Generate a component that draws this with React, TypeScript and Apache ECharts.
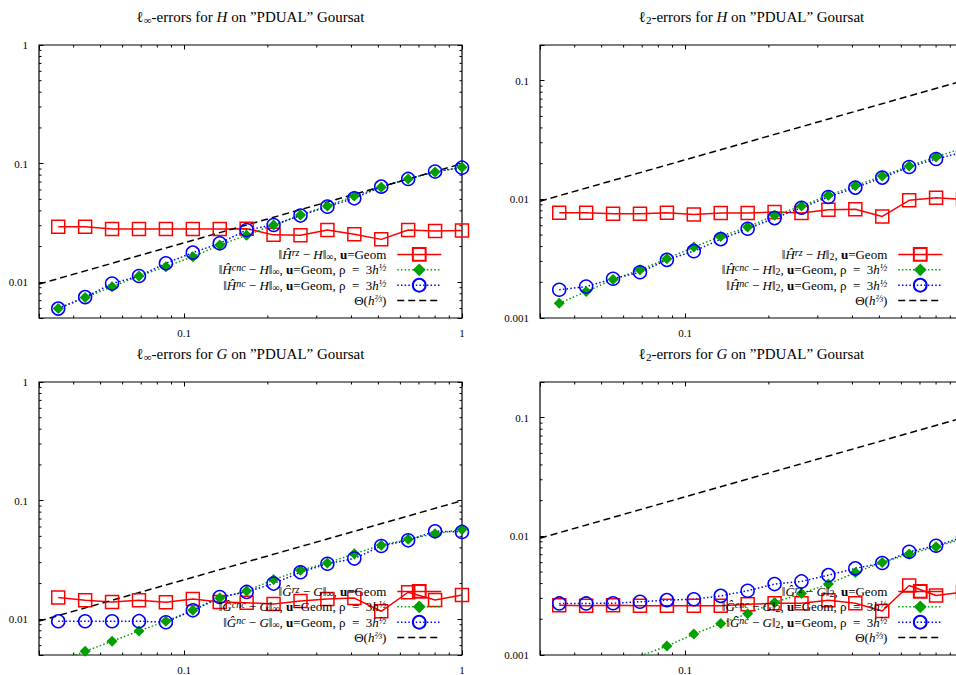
import React, { useEffect, useRef } from 'react';
import * as echarts from 'echarts';

// mesh sizes h (ascending)
const H_STEPS = [0.035184, 0.04398, 0.054976, 0.068719, 0.085899, 0.107374, 0.134218, 0.167772, 0.209715, 0.262144, 0.32768, 0.4096, 0.512, 0.64, 0.8, 1];

// l_inf errors for H
const HINF_RZ = [0.0294, 0.0294, 0.0281, 0.0281, 0.0281, 0.0281, 0.0281, 0.0283, 0.0251, 0.0249, 0.0276, 0.0254, 0.0230, 0.0276, 0.0271, 0.0273];
const HINF_CNC = [0.0060, 0.00743, 0.00919, 0.0113, 0.01355, 0.01644, 0.0206, 0.0249, 0.0304, 0.0369, 0.0440, 0.0534, 0.0632, 0.0743, 0.0851, 0.0931];
const HINF_NC = [0.0060, 0.0075, 0.00975, 0.0113, 0.01445, 0.01778, 0.0213, 0.0276, 0.0304, 0.0365, 0.0434, 0.0510, 0.0640, 0.0743, 0.0857, 0.0925];

// l_2 errors for H
const H2_RZ = [0.00772, 0.00772, 0.00757, 0.00757, 0.00772, 0.00745, 0.00767, 0.00767, 0.00782, 0.00767, 0.00819, 0.00824, 0.00718, 0.00982, 0.01033, 0.0100];
const H2_CNC = [0.00133, 0.00167, 0.00211, 0.00255, 0.00316, 0.00396, 0.00487, 0.00584, 0.00733, 0.00879, 0.01082, 0.01304, 0.01573, 0.01913, 0.0228, 0.0270];
const H2_NC = [0.00173, 0.00184, 0.00214, 0.00243, 0.00309, 0.00366, 0.00462, 0.00565, 0.00695, 0.0085, 0.01047, 0.01256, 0.01525, 0.01875, 0.0219, 0.0250];

// l_inf errors for G
const GINF_RZ = [0.01524, 0.01445, 0.0140, 0.01445, 0.0139, 0.0148, 0.0140, 0.0138, 0.01345, 0.01426, 0.0148, 0.0151, 0.01168, 0.0169, 0.01453, 0.0160];
const GINF_CNC = [0.0044, 0.00537, 0.00653, 0.00798, 0.00962, 0.0119, 0.0151, 0.01733, 0.0216, 0.0259, 0.0298, 0.0357, 0.0421, 0.0472, 0.0527, 0.0570];
const GINF_NC = [0.00962, 0.00962, 0.00962, 0.00964, 0.00944, 0.0119, 0.0154, 0.0170, 0.0200, 0.0249, 0.0294, 0.0325, 0.0415, 0.0463, 0.0552, 0.0545];

// l_2 errors for G
const G2_RZ = [0.00263, 0.0026, 0.00263, 0.0026, 0.0026, 0.0026, 0.0026, 0.00268, 0.00273, 0.00273, 0.0029, 0.00273, 0.00235, 0.00385, 0.00317, 0.00338];
const G2_CNC = [0.0005, 0.00062, 0.00078, 0.00098, 0.00119, 0.0015, 0.00184, 0.00223, 0.00277, 0.0033, 0.00396, 0.00496, 0.00603, 0.0071, 0.00819, 0.0095];
const G2_NC = [0.00272, 0.00272, 0.00273, 0.00281, 0.0029, 0.00295, 0.00315, 0.00348, 0.00396, 0.00417, 0.00471, 0.00537, 0.00596, 0.00741, 0.00834, 0.0098];

// reference line Theta(h^(2/3)) end points
const THETA_H = [0.03, 1];
const THETA_V = [0.009655, 0.1];

// axis ranges and minor tick values
const X_RANGE = [0.03, 1];
const Y_RANGE_INF = [0.005, 1];
const Y_RANGE_L2 = [0.001, 0.2];
const X_MINOR = [0.04, 0.05, 0.06, 0.07, 0.08, 0.09, 0.2, 0.3, 0.4, 0.5, 0.6, 0.7, 0.8, 0.9];
const Y_MINOR_INF = [0.006, 0.007, 0.008, 0.009, 0.02, 0.03, 0.04, 0.05, 0.06, 0.07, 0.08, 0.09, 0.2, 0.3, 0.4, 0.5, 0.6, 0.7, 0.8, 0.9];
const Y_MINOR_L2 = [0.002, 0.003, 0.004, 0.005, 0.006, 0.007, 0.008, 0.009, 0.02, 0.03, 0.04, 0.05, 0.06, 0.07, 0.08, 0.09];

const FONT = '"Liberation Serif", "Times New Roman", serif';
const RED = '#ff0000';
const GREEN = '#00a000';
const BLUE = '#0000ff';

type Panel = {
  fn: string;
  hat: string;
  norm: 'inf' | 'l2';
  rz: number[]; cnc: number[]; nc: number[];
  grid: { left: number; top: number };
  yRange: number[]; yMinor: number[];
  legendRight: number;
  clippedRight: boolean;
};

const PANELS: Panel[] = [
  { fn: 'H', hat: 'Ĥ', norm: 'inf', rz: HINF_RZ, cnc: HINF_CNC, nc: HINF_NC, grid: { left: 39, top: 45 }, yRange: Y_RANGE_INF, yMinor: Y_MINOR_INF, legendRight: 514, clippedRight: false },
  { fn: 'H', hat: 'Ĥ', norm: 'l2', rz: H2_RZ, cnc: H2_CNC, nc: H2_NC, grid: { left: 540, top: 45 }, yRange: Y_RANGE_L2, yMinor: Y_MINOR_L2, legendRight: 13, clippedRight: true },
  { fn: 'G', hat: 'Ĝ', norm: 'inf', rz: GINF_RZ, cnc: GINF_CNC, nc: GINF_NC, grid: { left: 39, top: 382 }, yRange: Y_RANGE_INF, yMinor: Y_MINOR_INF, legendRight: 514, clippedRight: false },
  { fn: 'G', hat: 'Ĝ', norm: 'l2', rz: G2_RZ, cnc: G2_CNC, nc: G2_NC, grid: { left: 540, top: 382 }, yRange: Y_RANGE_L2, yMinor: Y_MINOR_L2, legendRight: 13, clippedRight: true },
];

const GRID_W = 423;
const GRID_H = 273;
const CHART_W = 956;

function isPow10(v: number) {
  const l = Math.log10(v);
  return Math.abs(l - Math.round(l)) < 1e-6;
}
function logLabel(v: number) {
  if (!isPow10(v)) return '';
  const p = Math.round(Math.log10(v));
  return p >= 0 ? String(Math.pow(10, p)) : (Math.pow(10, p)).toFixed(-p);
}

export default function App() {
  const ref = useRef<HTMLDivElement>(null);
  useEffect(() => {
    if (!ref.current) return;
    const chart = echarts.init(ref.current, undefined, { renderer: 'svg' });

    const grids: any[] = [];
    const xAxes: any[] = [];
    const yAxes: any[] = [];
    const series: any[] = [];
    const titles: any[] = [];
    const legends: any[] = [];
    const legendText: Record<string, string> = {};

    const axisLabelStyle = { color: '#000', fontFamily: FONT, fontSize: 11 };
    const SP = '\u2002';

    PANELS.forEach((p, i) => {
      grids.push({
        left: p.grid.left, top: p.grid.top, right: CHART_W - p.grid.left - GRID_W, height: GRID_H,
        show: true, borderColor: '#000', borderWidth: 1.2, backgroundColor: 'transparent',
        containLabel: false, outerBoundsMode: 'none',
      });
      const baseX = {
        type: 'log', logBase: 10, gridIndex: i, min: X_RANGE[0], max: X_RANGE[1],
        axisLine: { show: false }, splitLine: { show: false }, minorTick: { show: false },
        axisTick: { show: true, inside: true, length: 4.5, lineStyle: { color: '#000', width: 1 } },
      };
      xAxes.push({
        ...baseX, position: 'bottom',
        axisLabel: { ...axisLabelStyle, margin: 9, showMaxLabel: !p.clippedRight, formatter: logLabel },
      });
      xAxes.push({ ...baseX, position: 'top', axisLabel: { show: false } });
      const baseY = {
        type: 'log', logBase: 10, gridIndex: i, min: p.yRange[0], max: p.yRange[1],
        axisLine: { show: false }, splitLine: { show: false }, minorTick: { show: false },
        axisTick: { show: true, inside: true, length: 4.5, lineStyle: { color: '#000', width: 1 } },
      };
      yAxes.push({ ...baseY, position: 'left', axisLabel: { ...axisLabelStyle, margin: 11, formatter: logLabel } });
      yAxes.push({ ...baseY, position: 'right', axisLabel: { show: false } });

      const xi = i * 2;
      const yi = i * 2;
      const sub = p.norm === 'inf' ? '∞' : '2';
      const nm = (k: string) => `${p.fn}${p.norm}_${k}`;
      const pts = (vals: number[]) => H_STEPS.map((h, j) => [h, vals[j]]);

      series.push({
        name: nm('rz'), type: 'line', xAxisIndex: xi, yAxisIndex: yi, data: pts(p.rz),
        symbol: 'rect', symbolSize: 13,
        itemStyle: { color: 'rgba(0,0,0,0)', borderColor: RED, borderWidth: 1.5 },
        lineStyle: { color: RED, width: 1.5, type: 'solid' },
      });
      series.push({
        name: nm('cnc'), type: 'line', xAxisIndex: xi, yAxisIndex: yi, data: pts(p.cnc),
        symbol: 'diamond', symbolSize: 11,
        itemStyle: { color: GREEN, borderWidth: 0 },
        lineStyle: { color: GREEN, width: 1.5, type: [1.5, 2.2] },
      });
      series.push({
        name: nm('nc'), type: 'line', xAxisIndex: xi, yAxisIndex: yi, data: pts(p.nc),
        symbol: 'circle', symbolSize: 13,
        itemStyle: { color: 'rgba(0,0,0,0)', borderColor: BLUE, borderWidth: 1.5 },
        lineStyle: { color: BLUE, width: 1.5, type: [1.5, 2.2] },
      });
      series.push({
        name: nm('theta'), type: 'line', xAxisIndex: xi, yAxisIndex: yi,
        data: THETA_H.map((h, j) => [h, THETA_V[j]]),
        symbol: 'none', showSymbol: false,
        itemStyle: { color: '#000', opacity: 0 },
        lineStyle: { color: '#000', width: 1.5, type: [7, 4] },
      });

      // minor ticks (all four sides) through the axis scales
      series.push({
        type: 'custom', xAxisIndex: xi, yAxisIndex: yi, silent: true, clip: false,
        data: X_MINOR.map((v) => [v, p.yRange[0]]),
        renderItem: (params: any, api: any) => {
          const cs = params.coordSys;
          const x = api.coord([api.value(0), api.value(1)])[0];
          return {
            type: 'group', children: [
              { type: 'line', shape: { x1: x, y1: cs.y + cs.height, x2: x, y2: cs.y + cs.height - 2.5 }, style: { stroke: '#000', lineWidth: 1 } },
              { type: 'line', shape: { x1: x, y1: cs.y, x2: x, y2: cs.y + 2.5 }, style: { stroke: '#000', lineWidth: 1 } },
            ],
          };
        },
      });
      series.push({
        type: 'custom', xAxisIndex: xi, yAxisIndex: yi, silent: true, clip: false,
        data: p.yMinor.map((v) => [X_RANGE[0], v]),
        renderItem: (params: any, api: any) => {
          const cs = params.coordSys;
          const y = api.coord([api.value(0), api.value(1)])[1];
          return {
            type: 'group', children: [
              { type: 'line', shape: { x1: cs.x, y1: y, x2: cs.x + 2.5, y2: y }, style: { stroke: '#000', lineWidth: 1 } },
              { type: 'line', shape: { x1: cs.x + cs.width, y1: y, x2: cs.x + cs.width - 2.5, y2: y }, style: { stroke: '#000', lineWidth: 1 } },
            ],
          };
        },
      });

      const normTxt = `{n|‖}{i|${p.hat}}{sup|%S}{n| − }{i|${p.fn}}{n|‖}{sub|${sub}}{n|, }{b|u}{n|=Geom`;
      const rho = `, ρ${SP}=${SP}3}{i|h}{sup|½}`;
      legendText[nm('rz')] = normTxt.replace('%S', 'rz') + '}';
      legendText[nm('cnc')] = normTxt.replace('%S', 'cnc') + rho;
      legendText[nm('nc')] = normTxt.replace('%S', 'nc') + rho;
      legendText[nm('theta')] = '{n|Θ(}{i|h}{sup|⅔}{n|)}';

      legends.push({
        orient: 'vertical', align: 'right', right: p.legendRight, top: p.grid.top + 202,
        padding: 0, itemGap: 1, itemWidth: 44, itemHeight: 16, selectedMode: false,
        data: [nm('rz'), nm('cnc'), nm('nc'), nm('theta')],
        formatter: (name: string) => legendText[name],
        lineStyle: { width: 1.5 },
        textStyle: {
          color: '#000', fontFamily: FONT, fontSize: 13, lineHeight: 14, padding: [0, 6, 0, 0],
          rich: {
            n: { fontFamily: FONT, fontSize: 13, lineHeight: 14, color: '#000' },
            i: { fontFamily: FONT, fontSize: 13, lineHeight: 14, fontStyle: 'italic', color: '#000' },
            b: { fontFamily: FONT, fontSize: 13, lineHeight: 14, fontWeight: 'bold', color: '#000' },
            sup: { fontFamily: FONT, fontSize: 10, lineHeight: 8, fontStyle: 'italic', verticalAlign: 'top', color: '#000' },
            sub: { fontFamily: FONT, fontSize: 10, lineHeight: 9, verticalAlign: 'bottom', color: '#000' },
          },
        },
      });

      const tsub = p.norm === 'inf' ? '∞' : '2';
      titles.push({
        left: p.grid.left + GRID_W / 2, top: p.grid.top - 37, textAlign: 'center', padding: 0,
        text: `{n|ℓ}{sub|${tsub}}{n|-errors for }{i|${p.fn}}{n| on ”PDUAL” Goursat}`,
        textStyle: {
          fontFamily: FONT, fontSize: 15, color: '#000', fontWeight: 'normal',
          rich: {
            n: { fontFamily: FONT, fontSize: 15, lineHeight: 17, color: '#000' },
            i: { fontFamily: FONT, fontSize: 15, lineHeight: 17, fontStyle: 'italic', color: '#000' },
            sub: { fontFamily: FONT, fontSize: 11, lineHeight: 10, verticalAlign: 'bottom', color: '#000' },
          },
        },
      });
    });

    chart.setOption({
      animation: false,
      backgroundColor: '#fff',
      title: titles,
      legend: legends,
      grid: grids,
      xAxis: xAxes,
      yAxis: yAxes,
      series,
    });
    return () => chart.dispose();
  }, []);
  return <div ref={ref} style={{ position: 'fixed', left: 0, top: 0, width: 956, height: 675 }} />;
}
